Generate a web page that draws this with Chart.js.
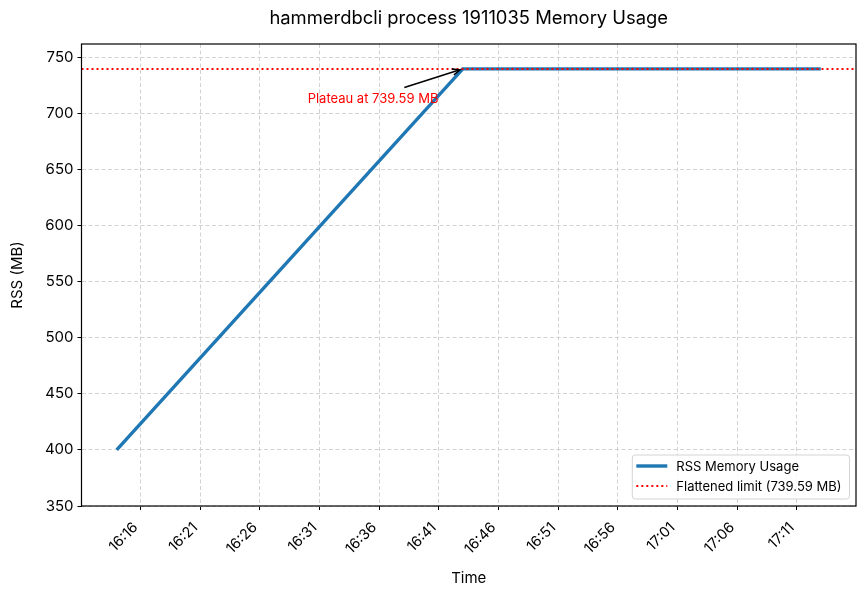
<!DOCTYPE html>
<html>
<head>
<meta charset="utf-8">
<script src="https://cdn.jsdelivr.net/npm/chart.js@4.4.1/dist/chart.umd.min.js"></script>
<style>
  html, body { margin: 0; padding: 0; background: #fff; }
  #memChart { display: block; }
</style>
</head>
<body>
<canvas id="memChart" width="866" height="595" style="width:866px;height:595px"></canvas>
<script>
"use strict";

// -----------------------------
// data
// -----------------------------
const sampleTimes = ["16:14", "16:43", "17:13"];
const rssValues = [400, 739.59, 739.59];
const plateauValue = 739.59;
const plateauTime = "16:43";
const labelTime = "16:30";
const labelValue = 709.59;
const xTickLabels = ["16:16", "16:21", "16:26", "16:31", "16:36", "16:41",
  "16:46", "16:51", "16:56", "17:01", "17:06", "17:11"];
const yTickValues = [350, 400, 450, 500, 550, 600, 650, 700, 750];

const FONT = "Inter, 'Noto Sans', sans-serif";
const BLUE = "#1f77b4";
const RED = "#ff0000";

// "HH:MM" <-> minutes of day
function toMin(s) {
  const [h, m] = s.split(":").map(Number);
  return h * 60 + m;
}
function fmtMin(v) {
  const h = Math.floor(v / 60);
  const m = Math.round(v - h * 60);
  return h + ":" + String(m).padStart(2, "0");
}

const xs = sampleTimes.map(toMin);
const span = Math.max(...xs) - Math.min(...xs);
const xMin = Math.min(...xs) - span * 0.05;
const xMax = Math.max(...xs) + span * 0.05;
const yMin = 350;
const yMax = plateauValue * 1.03;

// -----------------------------
// plugins: frame, title, annotation, legend
// -----------------------------
const framePlugin = {
  id: "frame",
  afterDatasetsDraw(chart) {
    const { ctx, chartArea: a } = chart;
    ctx.save();
    ctx.strokeStyle = "#000";
    ctx.lineWidth = 1.2;
    ctx.strokeRect(a.left, a.top, a.right - a.left, a.bottom - a.top);
    ctx.restore();
  },
};

const titlePlugin = {
  id: "topTitle",
  afterDraw(chart) {
    const { ctx, chartArea: a } = chart;
    ctx.save();
    ctx.fillStyle = "#000";
    ctx.font = "18.4px " + FONT;
    ctx.textAlign = "center";
    ctx.textBaseline = "middle";
    ctx.fillText("hammerdbcli process 1911035 Memory Usage", (a.left + a.right) / 2, 18);
    ctx.restore();
  },
};

const annotatePlugin = {
  id: "plateauNote",
  afterDatasetsDraw(chart) {
    const { ctx, scales } = chart;
    const tx = scales.x.getPixelForValue(toMin(labelTime));
    const ty = scales.y.getPixelForValue(labelValue);
    const px = scales.x.getPixelForValue(toMin(plateauTime));
    const py = scales.y.getPixelForValue(plateauValue);
    const text = "Plateau at " + plateauValue.toFixed(2) + " MB";

    ctx.save();
    ctx.font = "13px " + FONT;
    const w = ctx.measureText(text).width;
    ctx.fillStyle = RED;
    ctx.textAlign = "left";
    ctx.textBaseline = "alphabetic";
    ctx.fillText(text, tx, ty);

    // arrow from the text box edge to the peak
    const cx = tx + w / 2, cy = ty - 5;
    const dx = px - cx, dy = py - cy;
    const len = Math.hypot(dx, dy);
    const ux = dx / len, uy = dy / len;
    const t0 = Math.abs(10 / uy);
    const sx = cx + ux * t0, sy = cy + uy * t0;
    const ex = px - ux * 3, ey = py - uy * 3;
    ctx.strokeStyle = "#000";
    ctx.lineWidth = 1.6;
    ctx.beginPath();
    ctx.moveTo(sx, sy);
    ctx.lineTo(ex, ey);
    ctx.stroke();
    const head = 8, ang = Math.atan2(uy, ux);
    ctx.beginPath();
    ctx.moveTo(ex - head * Math.cos(ang - 0.4), ey - head * Math.sin(ang - 0.4));
    ctx.lineTo(ex, ey);
    ctx.lineTo(ex - head * Math.cos(ang + 0.4), ey - head * Math.sin(ang + 0.4));
    ctx.stroke();
    ctx.restore();
  },
};

const legendPlugin = {
  id: "boxLegend",
  afterDraw(chart) {
    const { ctx, chartArea: a } = chart;
    const items = chart.data.datasets.slice().sort((p, q) => p.legendIndex - q.legendIndex);
    ctx.save();
    ctx.font = "13px " + FONT;
    const textW = Math.max(...items.map((d) => ctx.measureText(d.label).width));
    const right = a.right - 6.5, bottom = a.bottom - 7;
    const boxW = 44 + textW + 8, boxH = 44;
    const left = right - boxW, top = bottom - boxH;

    ctx.beginPath();
    ctx.roundRect(left, top, boxW, boxH, 3);
    ctx.fillStyle = "rgba(255,255,255,0.8)";
    ctx.fill();
    ctx.strokeStyle = "#d4d4d4";
    ctx.lineWidth = 1;
    ctx.stroke();

    items.forEach((d, i) => {
      const y = top + 11 + i * 20;
      ctx.strokeStyle = d.borderColor;
      ctx.lineWidth = d.borderWidth;
      ctx.setLineDash(d.borderDash || []);
      ctx.beginPath();
      ctx.moveTo(left + 4, y);
      ctx.lineTo(left + 35, y);
      ctx.stroke();
      ctx.setLineDash([]);
      ctx.fillStyle = "#000";
      ctx.textBaseline = "middle";
      ctx.fillText(d.label, left + 44, y + 1);
    });
    ctx.restore();
  },
};

// -----------------------------
// chart
// -----------------------------
const ctx = document.getElementById("memChart").getContext("2d");
new Chart(ctx, {
  type: "line",
  data: {
    datasets: [
      {
        label: "Flattened limit (" + plateauValue.toFixed(2) + " MB)",
        data: [{ x: xMin, y: plateauValue }, { x: xMax, y: plateauValue }],
        borderColor: RED,
        borderWidth: 2,
        borderDash: [2, 3],
        pointRadius: 0,
        order: 0,
        legendIndex: 1,
      },
      {
        label: "RSS Memory Usage",
        data: xs.map((x, i) => ({ x, y: rssValues[i] })),
        borderColor: BLUE,
        borderWidth: 3.4,
        pointRadius: 0,
        tension: 0,
        order: 1,
        legendIndex: 0,
      },
    ],
  },
  options: {
    responsive: false,
    animation: false,
    devicePixelRatio: 1,
    layout: { padding: { top: 44, right: 10, left: 0, bottom: 0 } },
    plugins: { legend: { display: false }, tooltip: { enabled: false } },
    scales: {
      x: {
        type: "linear",
        min: xMin,
        max: xMax,
        afterBuildTicks: (s) => { s.ticks = xTickLabels.map((t) => ({ value: toMin(t) })); },
        afterFit: (s) => { s.height = 89; },
        ticks: {
          autoSkip: false,
          minRotation: 45,
          maxRotation: 45,
          padding: 9,
          labelOffset: -5,
          color: "#000",
          font: { family: FONT, size: 14.5 },
          callback: (v) => fmtMin(v),
        },
        grid: { color: "#d2d2d2", lineWidth: 1, tickColor: "#000", tickLength: 4 },
        border: { display: false, dash: [4, 2.5] },
        title: { display: true, text: "Time", color: "#000", font: { family: FONT, size: 15 }, padding: { top: 0, bottom: 8 } },
      },
      y: {
        min: yMin,
        max: yMax,
        afterBuildTicks: (s) => { s.ticks = yTickValues.map((v) => ({ value: v })); },
        afterFit: (s) => { s.width = 81.5; },
        ticks: { color: "#000", padding: 4, font: { family: FONT, size: 15 } },
        grid: { color: "#d2d2d2", lineWidth: 1, tickColor: "#000", tickLength: 4 },
        border: { display: false, dash: [4, 2.5] },
        title: { display: true, text: "RSS (MB)", color: "#000", font: { family: FONT, size: 15 }, padding: { top: 8, bottom: 0 } },
      },
    },
  },
  plugins: [framePlugin, annotatePlugin, legendPlugin, titlePlugin],
});
</script>
</body>
</html>
